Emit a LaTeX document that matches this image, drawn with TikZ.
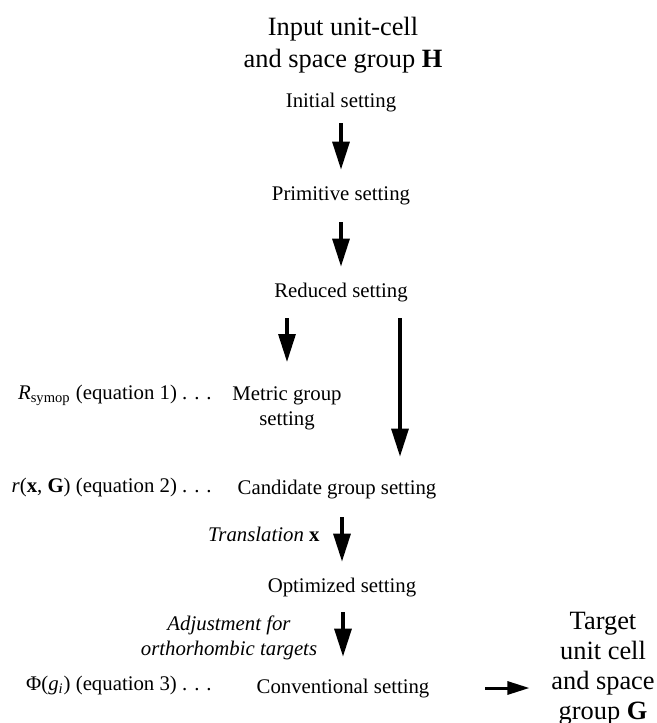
\documentclass[tikz,border=0pt]{standalone}
\usepackage{fontspec}
\setmainfont{Liberation Serif}
\usetikzlibrary{arrows.meta}

\begin{document}
\begin{tikzpicture}[x=0.5pt,y=-0.5pt,
		txt/.style={font=\fontsize{10.4}{12.5}\selectfont,inner sep=0pt,text height=7pt,text depth=2pt},
		twoline/.style={font=\fontsize{10.4}{12.5}\selectfont,inner sep=0pt,align=center},
		big/.style={font=\fontsize{13.2}{16}\selectfont,inner sep=0pt,align=center},
		flow/.style={line width=1.6pt,-{Triangle[width=8.5pt,length=14pt]}},
		flowsmall/.style={line width=1.5pt,-{Triangle[width=6.5pt,length=11pt]}}]
	\useasboundingbox (0,0) rectangle (657,723);
	% main column
	\node[big,anchor=north] (input) at (343,17) {Input unit-cell\\and space group \textbf{H}};
	\node[txt,anchor=base] (initial) at (341,107) {Initial setting};
	\node[txt,anchor=base] (primitive) at (341,200) {Primitive setting};
	\node[txt,anchor=base] (reduced) at (341,297) {Reduced setting};
	\node[twoline,anchor=north] (metric) at (287,386) {Metric group\\setting};
	\node[txt,anchor=base] (candidate) at (337,494) {Candidate group setting};
	\node[txt,anchor=base] (optimized) at (342,592) {Optimized setting};
	\node[txt,anchor=base] (conventional) at (343,693) {Conventional setting};
	\node[big,anchor=north,font=\fontsize{13.2}{15}\selectfont] (target) at (603,612)
		{Target\\unit cell\\and space\\group \textbf{G}};
	% left labels
	\node[txt,anchor=base east] (rsymop) at (212,399) {\textit{R}\textsubscript{symop} (equation 1) . . .};
	\node[txt,anchor=base east] (rxg) at (212,492) {\textit{r}(\textbf{x}, \textbf{G}) (equation 2) . . .};
	\node[txt,anchor=base east] (phig) at (212,690) {Φ(\textit{g\textsubscript{i}}) (equation 3) . . .};
	\node[txt,anchor=base east] (transl) at (320,541) {\textit{Translation} \textbf{x}};
	\node[twoline,anchor=north,font=\fontsize{10.4}{12.5}\selectfont\itshape] (adjust) at (229,615)
		{Adjustment for\\orthorhombic targets};
	% arrows
	\foreach \a/\b/\s/\e in {initial/primitive/6/8,primitive/reduced/9/8,
			candidate/optimized/9.5/8,optimized/conventional/8/11}
		\draw[flow,shorten <=\s pt,shorten >=\e pt] (\b.north |- \a.south) -- (\b.north);
	\draw[flow,shorten <=8.5pt,shorten >=12pt] (metric.north |- reduced.south) -- (metric.north);
	\draw[flow,shorten <=8.5pt,shorten >=11.5pt] ([xshift=29.5pt]reduced.south)
		-- ([xshift=29.5pt]reduced.south |- candidate.north);
	\draw[flowsmall,shorten <=27.75pt,shorten >=10.75pt] (conventional.east)
		-- (conventional.east -| target.west);
\end{tikzpicture}
\end{document}
